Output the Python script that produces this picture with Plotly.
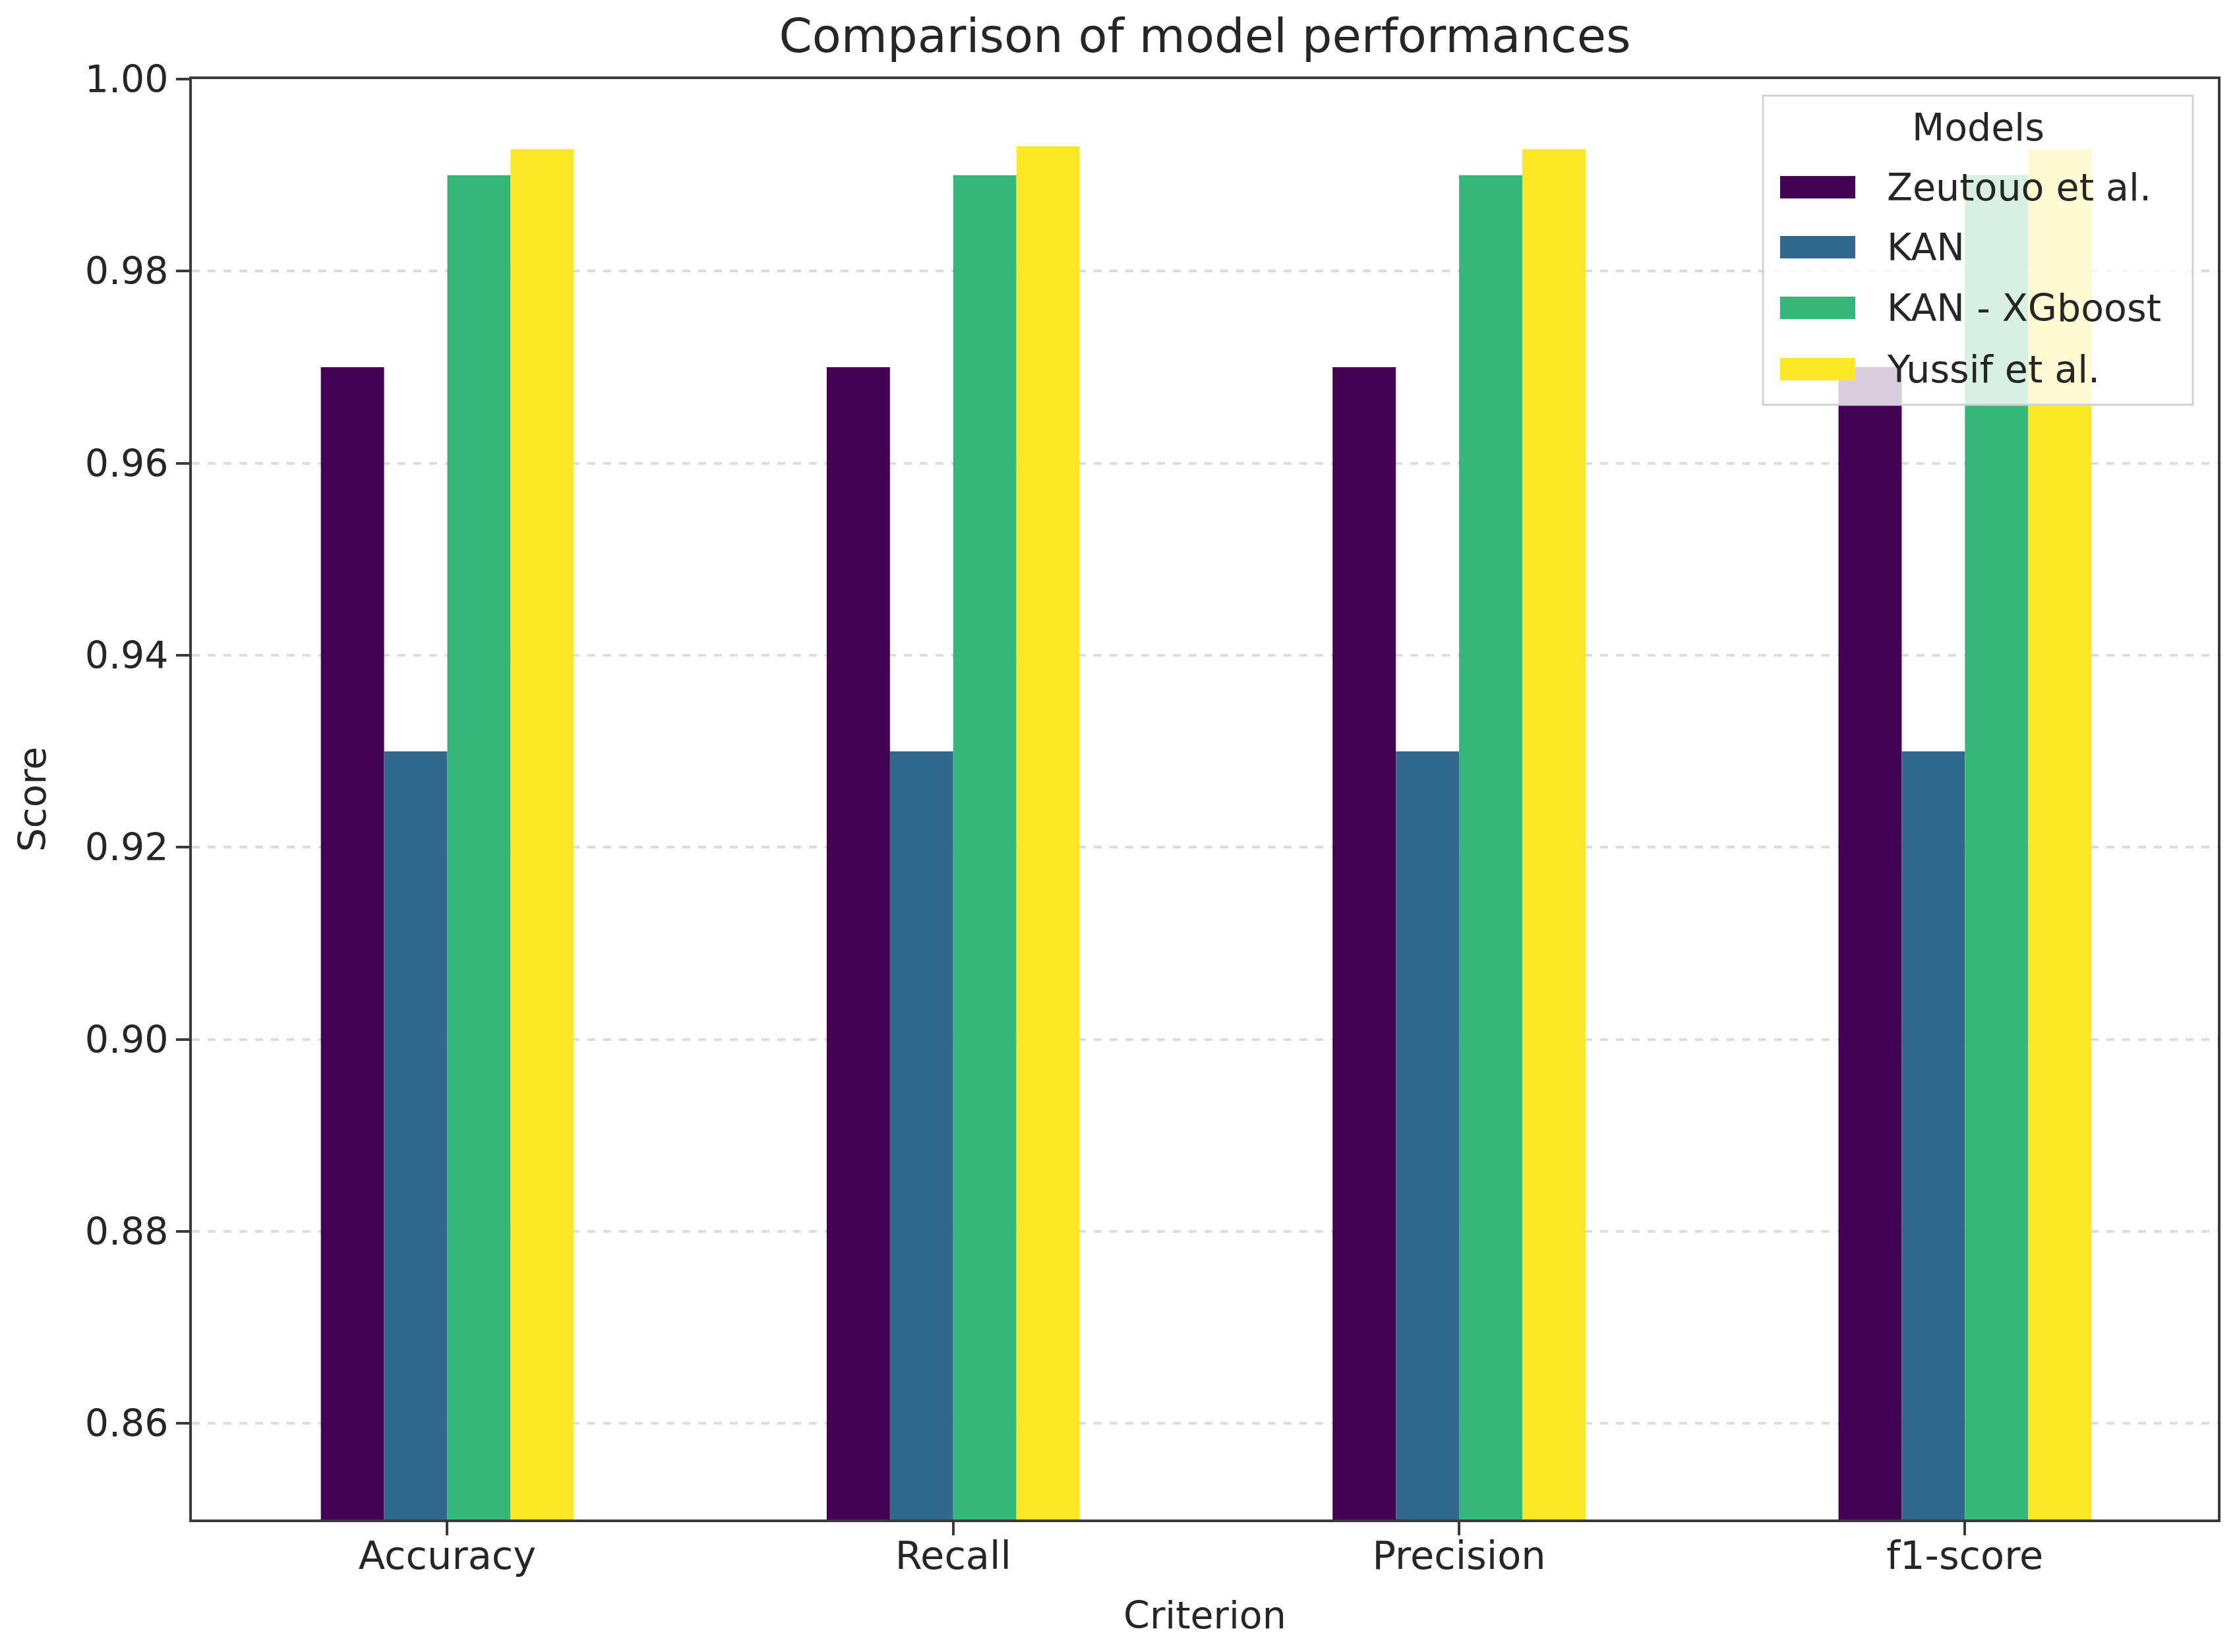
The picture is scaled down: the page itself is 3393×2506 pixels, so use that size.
import plotly.graph_objects as go

criteria = ["Accuracy", "Recall", "Precision", "f1-score"]
models = ["Zeutouo et al.", "KAN", "KAN - XGboost", "Yussif et al."]
zeutouo = [0.97, 0.97, 0.97, 0.97]
kan = [0.93, 0.93, 0.93, 0.93]
kan_xgb = [0.99, 0.99, 0.99, 0.99]
yussif = [0.9927, 0.9930, 0.9927, 0.9927]
colors = ["#440154", "#31688e", "#35b779", "#fde725"]

series = [zeutouo, kan, kan_xgb, yussif]

FONT = "DejaVu Sans"
TXT = "#262626"
AX = "#3a3a3a"

W, H = 3393, 2506
L, R, T, B = 283, 37, 112, 209
PW, PH = W - L - R, H - T - B


def px(xp):
    return (xp - L) / PW


def py(yp):
    return 1 - (yp - T) / PH


fig = go.Figure()
for i, (name, vals) in enumerate(zip(models, series)):
    fig.add_trace(go.Bar(
        x=list(range(len(criteria))), y=vals, name=name,
        marker=dict(color=colors[i], line=dict(width=0)),
        showlegend=False,
    ))

# legend (matplotlib-style box with wide swatches)
shapes = [dict(type="rect", xref="paper", yref="paper", layer="above",
               x0=px(2666), x1=px(3318), y0=py(606), y1=py(137),
               fillcolor="rgba(255,255,255,0.8)",
               line=dict(color="#d0d0d0", width=3))]
annotations = [dict(text="Models", xref="paper", yref="paper",
                    x=px(2992), y=py(185), xanchor="center", yanchor="middle",
                    showarrow=False, font=dict(family=FONT, size=57, color=TXT))]
item_y = [276, 367, 459, 552]
for i, name in enumerate(models):
    yc = item_y[i]
    shapes.append(dict(type="rect", xref="paper", yref="paper", layer="above",
                       x0=px(2692), x1=px(2806), y0=py(yc + 17), y1=py(yc - 17),
                       fillcolor=colors[i], line=dict(width=0)))
    annotations.append(dict(text=name, xref="paper", yref="paper",
                            x=px(2852), y=py(yc), xanchor="left", yanchor="middle",
                            showarrow=False,
                            font=dict(family=FONT, size=57, color=TXT)))

fig.update_layout(
    width=W, height=H,
    margin=dict(l=L, r=R, t=T, b=B),
    paper_bgcolor="white", plot_bgcolor="white",
    barmode="group", bargap=0.5, bargroupgap=0,
    font=dict(family=FONT, size=59, color=TXT),
    title=dict(text="Comparison of model performances",
               font=dict(family=FONT, size=72, color=TXT),
               x=0.5, xref="paper", xanchor="center",
               y=1 - 46 / H, yref="container", yanchor="middle"),
    shapes=shapes, annotations=annotations,
    showlegend=False,
)
fig.update_xaxes(
    range=[-0.505, 3.5], tickmode="array",
    tickvals=list(range(len(criteria))), ticktext=criteria,
    showgrid=False, zeroline=False,
    showline=True, linecolor=AX, linewidth=4, mirror=True,
    ticks="outside", ticklen=20, tickwidth=4, tickcolor=AX,
    ticklabelstandoff=-20,
    tickfont=dict(size=59, color=TXT),
    title=dict(text="Criterion", font=dict(size=57, color=TXT), standoff=38),
)
fig.update_yaxes(
    range=[0.85, 1.0], tickmode="array",
    tickvals=[0.86, 0.88, 0.90, 0.92, 0.94, 0.96, 0.98, 1.00],
    tickformat=".2f",
    showgrid=True, gridcolor="#dcdcdc", gridwidth=4, griddash="dash",
    zeroline=False,
    showline=True, linecolor=AX, linewidth=4, mirror=True,
    ticks="outside", ticklen=20, tickwidth=4, tickcolor=AX,
    tickfont=dict(size=57, color=TXT),
    title=dict(text="Score", font=dict(size=57, color=TXT), standoff=42),
)

fig.write_html("out.html")
